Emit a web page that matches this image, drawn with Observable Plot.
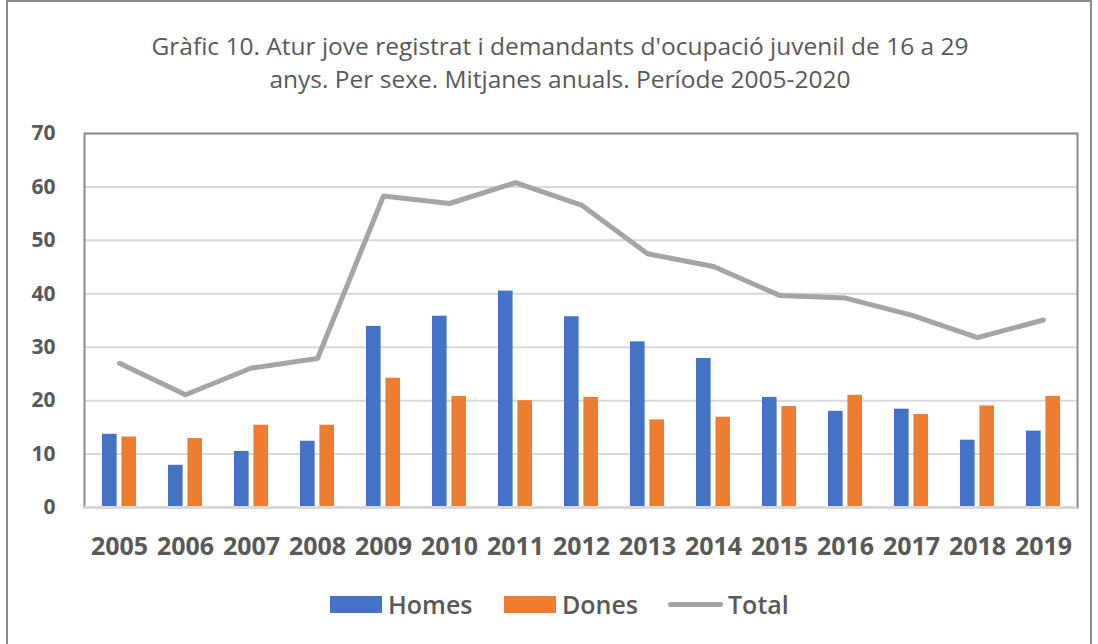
<!DOCTYPE html>
<html>
<head>
<meta charset="utf-8">
<script src="https://cdn.jsdelivr.net/npm/d3@7"></script>
<script src="https://cdn.jsdelivr.net/npm/@observablehq/plot@0.6"></script>
<style>
  html, body { margin: 0; padding: 0; background: #fff; }
  #wrap { position: relative; width: 1098px; height: 644px; overflow: hidden; font-family: "Open Sans", sans-serif; color: #595959; }
  #border { position: absolute; left: 6px; top: 0px; width: 1086px; height: 660px; border: 2px solid #8c8c8c; box-sizing: border-box; }
  #title { position: absolute; left: 0; width: 1120px; top: 29px; text-align: center; font-size: 24.5px; line-height: 33px; color: #595959; }
  #chart { position: absolute; left: 0; top: 110px; }
  #legend { position: absolute; top: 588px; left: 0; width: 1098px; height: 32px; }
  .item { position: absolute; top: 0; display: flex; align-items: center; height: 32px; font-size: 25px; font-weight: 600; color: #595959; }
  .sw { width: 52px; height: 17px; margin-right: 6px; }
  .ln { width: 55px; height: 5px; border-radius: 3px; margin-right: 5px; }
</style>
</head>
<body>
<div id="wrap">
  <div id="border"></div>
  <div id="title">Gràfic 10. Atur jove registrat i demandants d'ocupació juvenil de 16 a 29<br>anys. Per sexe. Mitjanes anuals. Període 2005-2020</div>
  <div id="chart"></div>
  <div id="legend"></div>
</div>
<script>
const years = ["2005","2006","2007","2008","2009","2010","2011","2012","2013","2014","2015","2016","2017","2018","2019"];
const homes = [13.7, 7.9, 10.5, 12.4, 33.9, 35.8, 40.5, 35.7, 31.0, 27.9, 20.6, 18.0, 18.4, 12.6, 14.3];
const dones = [13.2, 12.9, 15.4, 15.4, 24.2, 20.8, 20.0, 20.6, 16.4, 16.9, 18.9, 21.0, 17.4, 19.0, 20.8];
const total = [27.0, 21.1, 26.1, 27.9, 58.3, 56.9, 60.8, 56.6, 47.5, 45.1, 39.7, 39.2, 36.0, 31.8, 35.1];
const yTicks = [0, 10, 20, 30, 40, 50, 60, 70];
const seriesNames = ["Homes", "Dones", "Total"];
const colors = ["#4472c4", "#ed7d31", "#a5a5a5"];

const homesData = years.map((y, i) => ({year: y, value: homes[i]}));
const donesData = years.map((y, i) => ({year: y, value: dones[i]}));
const totalData = years.map((y, i) => ({year: y, value: total[i]}));

const plot = Plot.plot({
  width: 1098,
  height: 460,
  marginLeft: 84,
  marginRight: 21,
  marginTop: 23,
  marginBottom: 63,
  style: {fontFamily: "Open Sans, sans-serif", color: "#595959", background: "transparent", overflow: "visible"},
  x: {type: "band", domain: years, padding: 0, label: null},
  y: {domain: [0, 70], label: null},
  marks: [
    Plot.gridY(yTicks, {stroke: "#d9d9d9", strokeOpacity: 1, strokeWidth: 2}),
    Plot.barY(homesData, {x: "year", y: "value", fill: colors[0], insetLeft: 16, insetRight: 35.4}),
    Plot.barY(donesData, {x: "year", y: "value", fill: colors[1], insetLeft: 35.4, insetRight: 16}),
    Plot.lineY(totalData, {x: "year", y: "value", stroke: colors[2], strokeWidth: 5, strokeLinejoin: "round", strokeLinecap: "round"}),
    Plot.frame({stroke: "#8c8c8c", strokeWidth: 2}),
    Plot.ruleY([0], {stroke: "#d9d9d9", strokeWidth: 3}),
    Plot.axisY(yTicks, {tickSize: 0, tickPadding: 29, fontSize: 21, fontWeight: "bold", fill: "#595959", label: null}),
    Plot.axisX({tickSize: 0, tickPadding: 30, fontSize: 25, fontWeight: "bold", fill: "#595959", label: null})
  ]
});
document.getElementById("chart").appendChild(plot);

const legend = document.getElementById("legend");
const lefts = [330, 504, 668];
seriesNames.forEach((name, i) => {
  const item = document.createElement("div");
  item.className = "item";
  item.style.left = lefts[i] + "px";
  const sw = document.createElement("div");
  sw.className = i < 2 ? "sw" : "ln";
  sw.style.background = colors[i];
  item.appendChild(sw);
  const t = document.createElement("span");
  t.textContent = name;
  item.appendChild(t);
  legend.appendChild(item);
});
</script>
</body>
</html>
